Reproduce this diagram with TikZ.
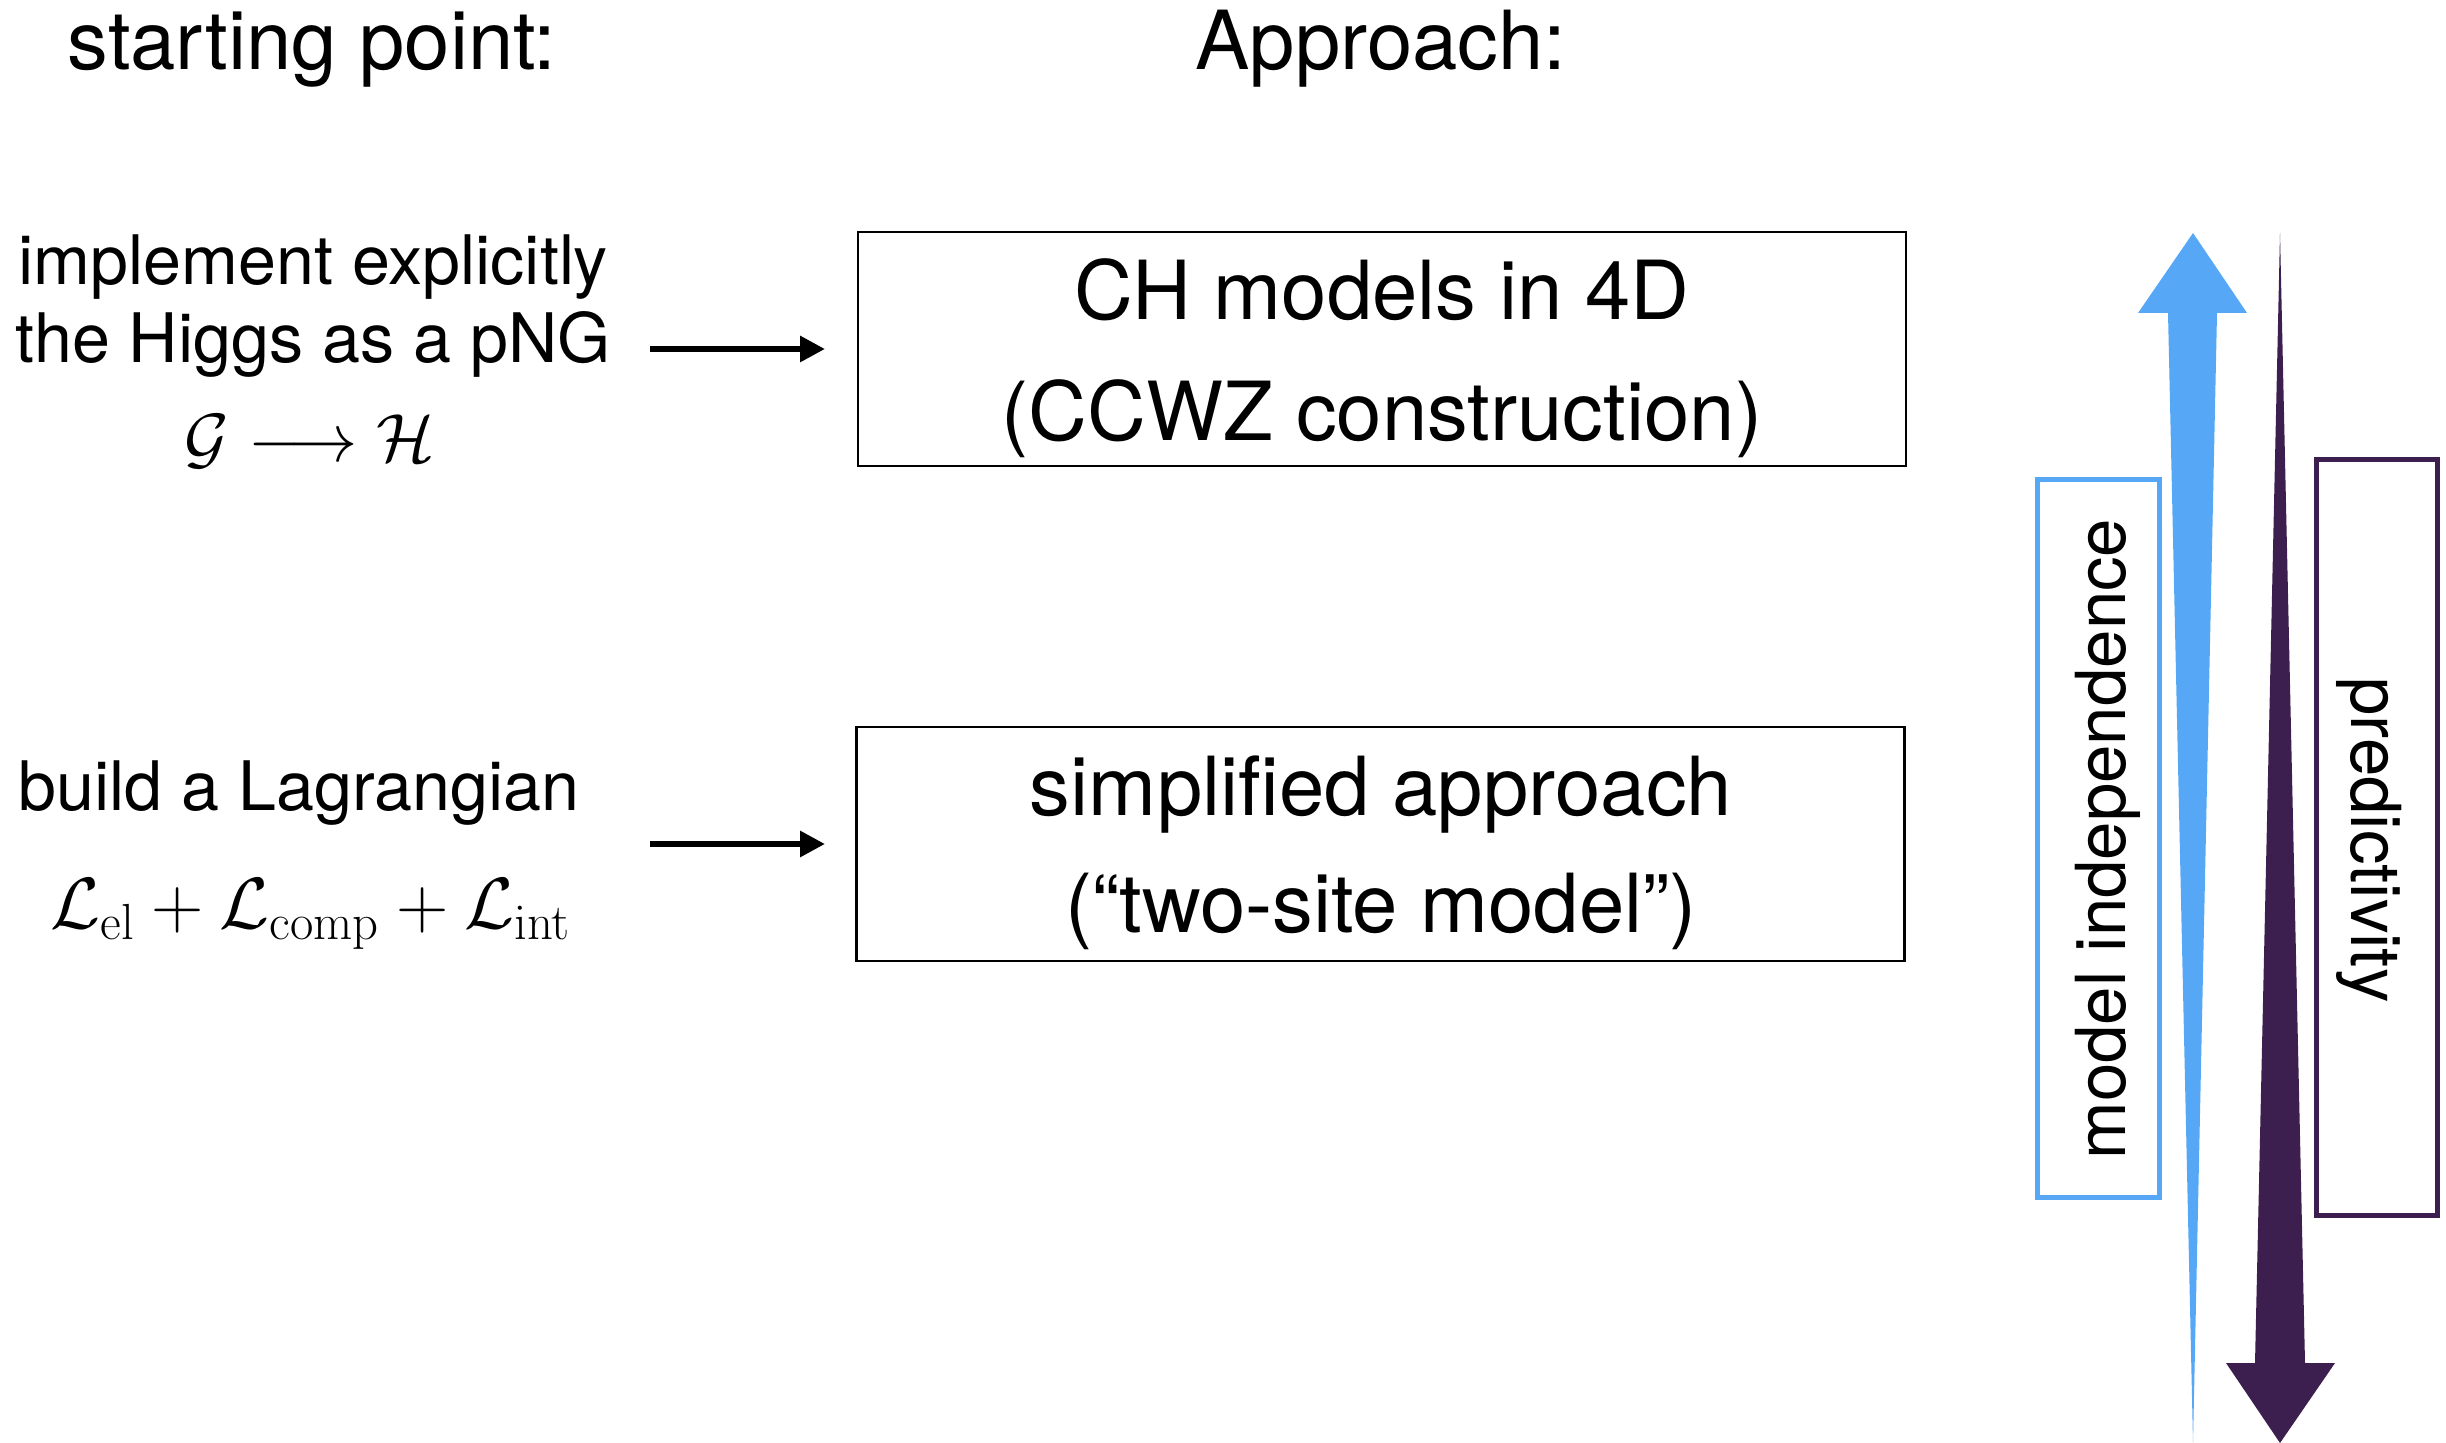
\RequirePackage{fix-cm}
\documentclass[tikz,border=0pt]{standalone}
\usepackage[no-math]{fontspec}
\setmainfont{TeX Gyre Heros}
\usetikzlibrary{arrows.meta}
\definecolor{skyblue}{HTML}{56A8F6}
\definecolor{deeppurple}{HTML}{3C1F4E}
\begin{document}
\begin{tikzpicture}[x=0.4pt,y=-0.4pt,
  big/.style={font=\fontsize{32.6}{39}\selectfont, anchor=base, inner sep=0pt},
  small/.style={font=\fontsize{27.3}{33}\selectfont, anchor=base, inner sep=0pt},
  sidetext/.style={font=\fontsize{27.6}{33}\selectfont, anchor=base, inner sep=0pt},
  mathl/.style={font=\fontsize{29}{35}\selectfont, anchor=base, inner sep=0pt},
  stepbox/.style={draw, line width=1pt, minimum width=419.2pt, minimum height=93.6pt, inner sep=0pt},
  conn/.style={-{Triangle[length=10pt,width=10pt]}, line width=2.4pt},
  sidebox/.style={line width=2pt, inner sep=0pt},
]
\useasboundingbox (0,0) rectangle (2446,1443);

% titles
\node[big] (t1) at (312,70) {starting point:};
\node[big] (t2) at (1381,70) {Approach:};

% left texts
\node[small] (l1a) at (313,285) {implement explicitly};
\node[small] (l1b) at (313,363) {the Higgs as a pNG};
\node[small] (l1c) at (310,462) {$\mathcal{G}\longrightarrow\mathcal{H}$};

\node[small] (l2a) at (299,811) {build a Lagrangian};
\node[mathl] (l2b) at (311,929) {$\mathcal{L}_{\mathrm{el}}+\mathcal{L}_{\mathrm{comp}}+\mathcal{L}_{\mathrm{int}}$};

% boxes
\node[stepbox] (b1) at (1382,349) {};
\node[big] (b1a) at (1382,320) {CH models in 4D};
\node[big] (b1b) at (1382,441) {(CCWZ construction)};

\node[stepbox] (b2) at (1380.5,844) {};
\node[big] (b2a) at (1381,816) {simplified approach};
\node[big] (b2b) at (1381,933) {(“two-site model”)};

% connectors
\coordinate (a1s) at (650,349);
\coordinate (a1e) at (825,349);
\coordinate (a2s) at (650,844);
\coordinate (a2e) at (825,844);
\draw[conn] (a1s) -- (a1e);
\draw[conn] (a2s) -- (a2e);

% right side
\fill[skyblue] (2193,233) -- (2247,313) -- (2217,313) -- (2193,1443) -- (2168,313) -- (2138,313) -- cycle;
\fill[deeppurple] (2280,233) -- (2305,1363) -- (2335,1363) -- (2280,1443) -- (2226,1363) -- (2255,1363) -- cycle;

\draw[sidebox, draw=skyblue] (2037.5,479.5) rectangle (2159.5,1197.5);
\draw[sidebox, draw=deeppurple] (2316.5,459.5) rectangle (2437.5,1215.5);
\node[sidetext, rotate=90] (mi) at (2125,839) {model independence};
\node[sidetext, rotate=-90] (pr) at (2351,840) {predictivity};
\end{tikzpicture}
\end{document}
